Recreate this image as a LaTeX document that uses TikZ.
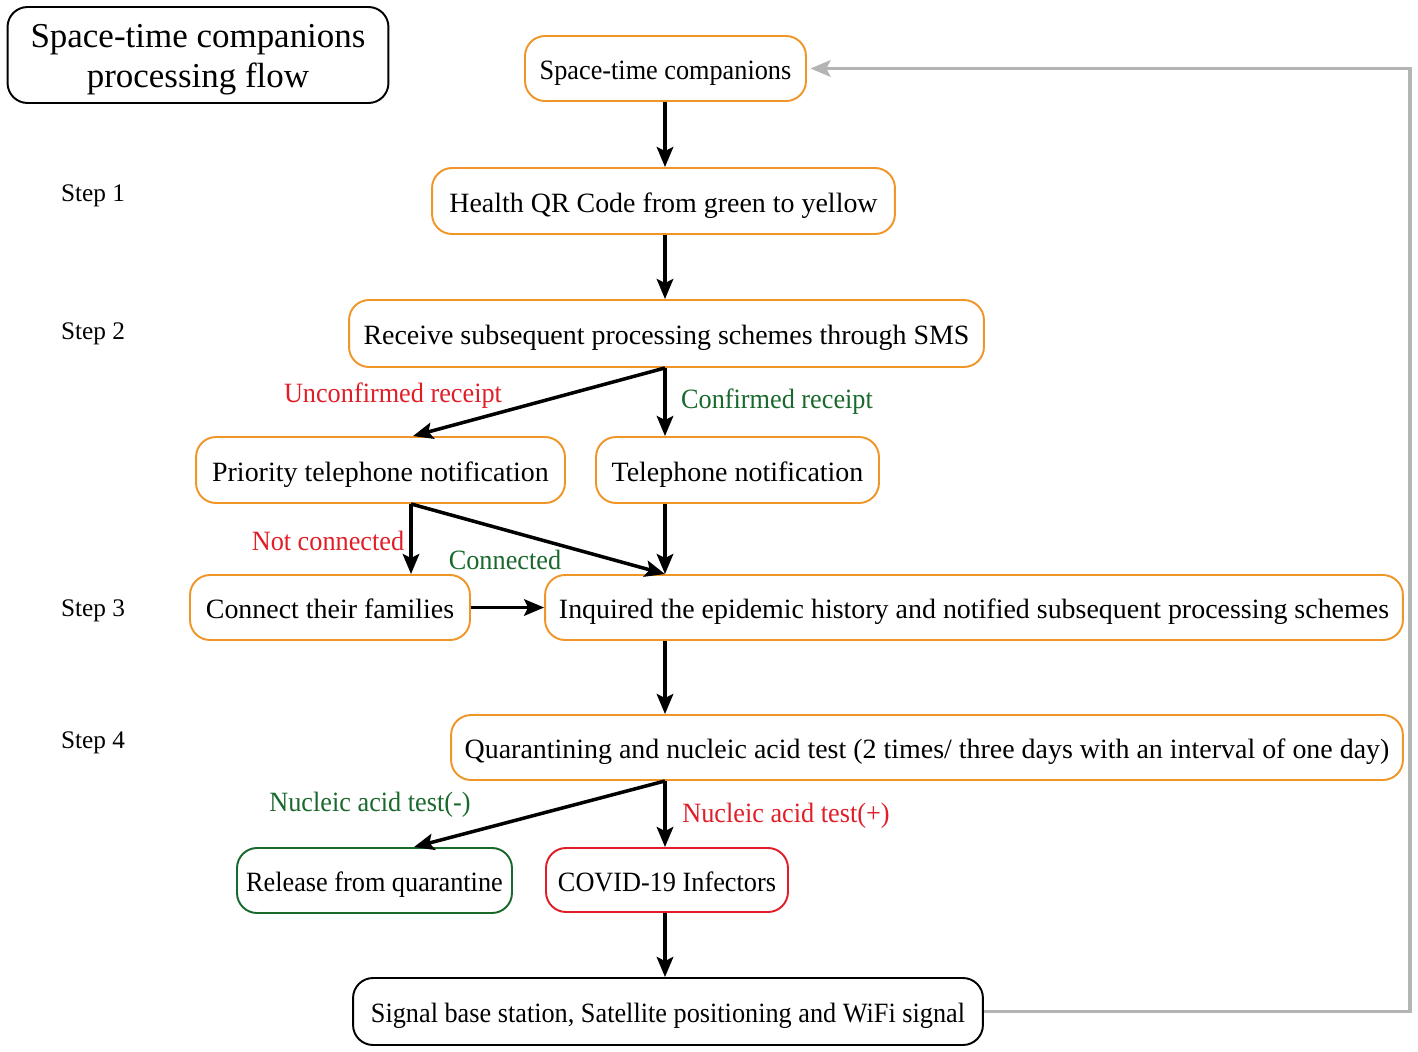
\documentclass[tikz,border=0pt]{standalone}
\usepackage{fontspec}
\setmainfont{Liberation Serif}
\newfontfamily\narrowserif[FakeStretch=0.94]{Liberation Serif}
\usepackage{xcolor}
\usepackage{tikz}
\usetikzlibrary{arrows.meta,calc}

\definecolor{boxorange}{RGB}{240,150,40}
\definecolor{textred}{RGB}{225,30,40}
\definecolor{textgreen}{RGB}{25,105,45}
\definecolor{loopgray}{RGB}{180,180,180}

\begin{document}
\begin{tikzpicture}[x=0.02cm, y=-0.02cm,
    >={Stealth[length=0.4cm,width=0.33cm,inset=0.08cm]},
    flowbox/.style={draw=boxorange, line width=1.1pt, rounded corners=0.4cm,
        minimum height=1.3cm, inner xsep=2pt, align=center,
        text height=0.53cm, text depth=0.08cm,
        font=\fontsize{15.9}{19}\selectfont},
    narrowbox/.style={flowbox, font=\narrowserif\fontsize{15.9}{19}\selectfont},
    flowarrow/.style={->, line width=2pt},
    steplabel/.style={font=\fontsize{14.4}{17}\selectfont},
    edgelabel/.style={font=\narrowserif\fontsize{15.9}{19}\selectfont}]

\useasboundingbox (0,0) rectangle (1418,1052);

% ===========================
% Title and step labels
% ===========================
\node[draw, line width=1.1pt, rounded corners=0.4cm, minimum width=7.62cm,
    minimum height=1.92cm, align=center, font=\fontsize{19.9}{23.2}\selectfont]
    (title) at (198,55) {\rule{0pt}{18.5pt}Space-time companions\\processing flow};

\node[steplabel] (step1) at (93,196) {Step 1};
\node[steplabel] (step2) at (93,334) {Step 2};
\node[steplabel] (step3) at (93,611) {Step 3};
\node[steplabel] (step4) at (93,743) {Step 4};

% ===========================
% Boxes
% ===========================
\node[narrowbox, minimum width=5.62cm] (companions) at (665.5,68.5) {Space-time companions};
\node[flowbox, minimum width=9.26cm, minimum height=1.32cm] (qrcode) at (663.5,201) {Health QR Code from green to yellow};
\node[flowbox, minimum width=12.7cm, minimum height=1.34cm] (sms) at (666.5,333.5) {Receive subsequent processing schemes through SMS};
\node[flowbox, minimum width=7.38cm, minimum height=1.32cm] (priority) at (380.5,470) {Priority telephone notification};
\node[flowbox, minimum width=5.66cm, minimum height=1.32cm] (phone) at (737.5,470) {Telephone notification};
\node[flowbox, minimum width=5.6cm] (families) at (330,607.5) {Connect their families};
\node[flowbox, minimum width=17.16cm] (inquire) at (974,607.5) {Inquired the epidemic history and notified subsequent processing schemes};
\node[flowbox, minimum width=19.04cm] (quarantine) at (927,747.5) {Quarantining and nucleic acid test (2 times/ three days with an interval of one day)};
\node[narrowbox, draw=textgreen, minimum width=5.5cm] (release) at (374.5,880.5) {Release from quarantine};
\node[narrowbox, draw=textred, minimum width=4.84cm, minimum height=1.28cm] (infector) at (667,880) {COVID-19 Infectors};
\node[narrowbox, draw=black, minimum width=12.6cm, minimum height=1.34cm] (signal) at (668,1011.5) {Signal base station, Satellite positioning and WiFi signal};

% main vertical line and split points
\coordinate (spine) at (665,0);
\coordinate (notcon) at ($(priority.south)+(30.5,0)$);

% ===========================
% Arrows
% ===========================
\draw[flowarrow] (spine |- companions.south) -- (spine |- qrcode.north);
\draw[flowarrow] (spine |- qrcode.south) -- (spine |- sms.north);

\draw[flowarrow] (spine |- sms.south) -- ($(priority.north)+(32.5,0)$);
\draw[flowarrow] (spine |- sms.south) -- (spine |- phone.north);

\draw[flowarrow] (notcon) -- (notcon |- families.north);
\draw[flowarrow] (notcon) -- (spine |- inquire.north);
\draw[flowarrow] (spine |- phone.south) -- (spine |- inquire.north);
\draw[flowarrow] (families.east) -- (inquire.west);

\draw[flowarrow] (spine |- inquire.south) -- (spine |- quarantine.north);
\draw[flowarrow] (spine |- quarantine.south) -- ($(release.north)+(39.5,0)$);
\draw[flowarrow] (spine |- quarantine.south) -- (spine |- infector.north);
\draw[flowarrow] (spine |- infector.south) -- (spine |- signal.north);

% feedback loop back to the top
\coordinate (loopside) at (1410,0);
\draw[->, loopgray, line width=1.8pt, shorten >=2pt]
    (signal.east) -- (loopside |- signal.east) -- (loopside |- companions.east) -- (companions.east);

% ===========================
% Branch labels
% ===========================
\node[edgelabel, text=textred] (unconf) at (393,396) {Unconfirmed receipt};
\node[edgelabel, text=textgreen] (conf) at (777,402) {Confirmed receipt};
\node[edgelabel, text=textred] (notconlabel) at (328,541) {Not connected};
\node[edgelabel, text=textgreen] (conlabel) at (505,560) {Connected};
\node[edgelabel, text=textgreen] (negative) at (370,805) {Nucleic acid test(-)};
\node[edgelabel, text=textred] (positive) at (786,816) {Nucleic acid test(+)};

\end{tikzpicture}
\end{document}
